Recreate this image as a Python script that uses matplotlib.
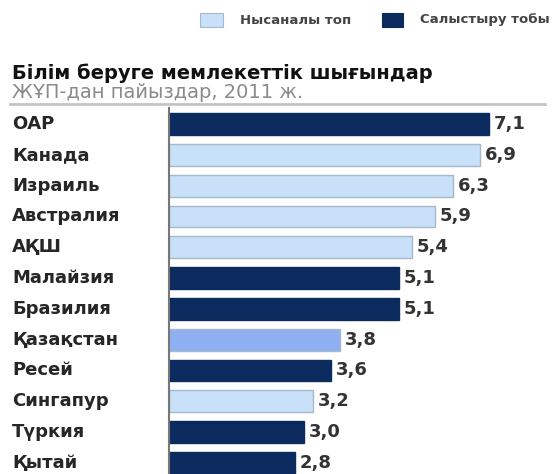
import numpy as np
import matplotlib.pyplot as plt
from matplotlib.patches import Rectangle

plt.rcParams['font.family'] = ['DejaVu Sans']

countries = ["ОАР", "Канада", "Израиль", "Австралия", "АҚШ", "Малайзия",
             "Бразилия", "Қазақстан", "Ресей", "Сингапур", "Түркия", "Қытай"]
values = [7.1, 6.9, 6.3, 5.9, 5.4, 5.1, 5.1, 3.8, 3.6, 3.2, 3.0, 2.8]
groups = ["cmp", "target", "target", "target", "target", "cmp",
          "cmp", "kz", "cmp", "target", "cmp", "cmp"]

DARK = "#0b2a5e"
LIGHT = "#c8e0f8"
KZ = "#8eb0f2"
face = {"cmp": DARK, "target": LIGHT, "kz": KZ}
edge = {"cmp": DARK, "target": "#a9b8c8", "kz": "#a9b8c8"}

W, H = 555, 474
fig = plt.figure(figsize=(W / 100, H / 100), dpi=100)

ax = fig.add_axes([169 / W, 0, (W - 169) / W, 366 / H])
y = np.arange(len(countries))
for yi, v, g in zip(y, values, groups):
    ax.barh(yi, v, height=0.71, color=face[g], edgecolor=edge[g], linewidth=1.0)
    ax.text(v + 0.11, yi, f"{v:.1f}".replace(".", ","), va="center", ha="left",
            fontsize=13, fontweight="bold", color="#333333")

ax.set_xlim(0, (W - 169) / 45)
ax.set_ylim(11.36, -0.52)
ax.set_xticks([])
ax.set_yticks([])
for side in ["top", "right", "bottom"]:
    ax.spines[side].set_visible(False)
ax.spines["left"].set_color("#777777")
ax.spines["left"].set_linewidth(1.5)

# country names on the left
for yi, name in zip(y, countries):
    fig.text(12 / W, 1 - (124 + yi * 30.8) / H, name, ha="left", va="center",
             fontsize=13, fontweight="bold", color="#262626")

# heading
fig.text(12 / W, 1 - 73 / H, "Білім беруге мемлекеттік шығындар", ha="left",
         va="center", fontsize=14, fontweight="bold", color="#111111")
fig.text(12 / W, 1 - 92 / H, "ЖҰП-дан пайыздар, 2011 ж.", ha="left",
         va="center", fontsize=14, color="#8a8a8a")
fig.add_artist(plt.Line2D([10 / W, 545 / W], [1 - 104 / H, 1 - 104 / H],
                          color="#c4c4c4", linewidth=2))

# legend
fig.add_artist(Rectangle((200 / W, 1 - 27 / H), 23 / W, 14 / H,
                         facecolor=LIGHT, edgecolor="#a9b8c8", linewidth=0.8))
fig.text(240 / W, 1 - 20 / H, "Нысаналы топ", ha="left", va="center",
         fontsize=9.5, fontweight="bold", color="#444444")
fig.add_artist(Rectangle((382 / W, 1 - 27 / H), 21 / W, 14 / H,
                         facecolor=DARK, edgecolor=DARK, linewidth=0.8))
fig.text(420 / W, 1 - 20 / H, "Салыстыру тобы", ha="left", va="center",
         fontsize=9.5, fontweight="bold", color="#444444")

fig.savefig("out.png", dpi=100)
